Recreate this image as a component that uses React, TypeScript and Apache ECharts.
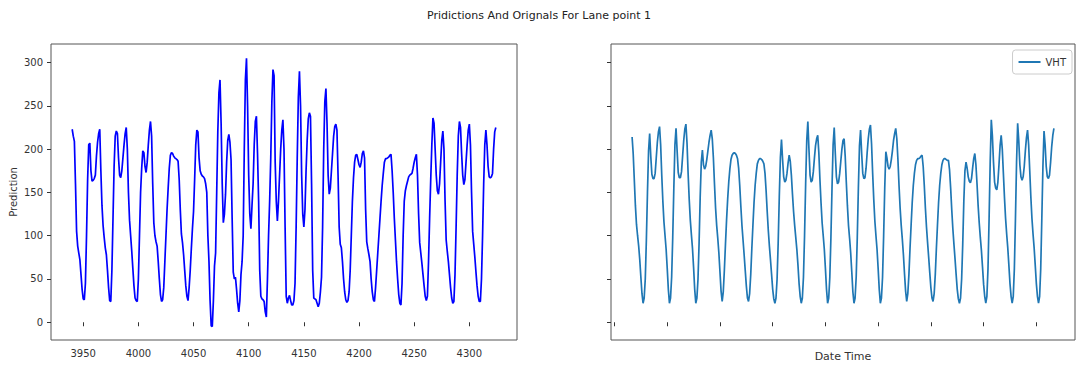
import React, { useEffect, useRef } from "react";
import * as echarts from "echarts";

const TITLE = "Pridictions And Orignals For Lane point 1";
const X_START = 3940;

// Left panel: model predictions (hourly)
const prediction: number[] = [
  223, 215, 209, 160, 105, 88, 80, 72, 55, 38,
  27, 26, 45, 100, 165, 205, 207, 175, 163, 164, 166, 170, 192, 208, 218, 223, 175, 135, 112, 98, 86, 78, 60, 40,
  25, 24, 60, 120, 180, 215, 221, 218, 190, 170, 167, 175, 190, 205, 218, 225, 200, 150, 118, 100, 82, 62, 42, 28,
  25, 24, 50, 100, 150, 178, 198, 196, 180, 173, 185, 205, 222, 232, 215, 160, 115, 100, 93, 88, 70, 50, 32, 24,
  26, 40, 70, 100, 130, 155, 178, 193, 196, 195, 192, 190, 189, 188, 186, 165, 130, 102, 92, 78, 60, 42, 30, 25,
  40, 60, 85, 108, 128, 165, 205, 222, 220, 190, 175, 171, 169, 168, 166, 160, 150, 100, 70, 25, -4, -5, 25, 65,
  80, 150, 220, 265, 280, 230, 160, 115, 125, 148, 185, 210, 217, 208, 188, 120, 58, 50, 52, 38, 22, 12, 25, 55,
  70, 100, 200, 280, 305, 250, 170, 125, 108, 135, 160, 205, 232, 238, 195, 140, 60, 30, 27, 26, 24, 12, 6, 50,
  100, 140, 190, 255, 292, 285, 185, 140, 117, 140, 170, 200, 222, 234, 200, 110, 30, 22, 28, 31, 25, 20, 20, 25,
  45, 110, 190, 260, 290, 250, 170, 125, 110, 130, 175, 210, 235, 242, 238, 160, 60, 28, 27, 26, 22, 18, 22, 35,
  52, 110, 200, 255, 270, 230, 170, 148, 155, 175, 195, 215, 226, 229, 222, 170, 110, 90, 86, 70, 50, 35, 26, 23,
  25, 35, 60, 100, 140, 167, 185, 193, 194, 188, 182, 179, 185, 195, 198, 190, 130, 93, 85, 78, 70, 50, 35, 26,
  24, 40, 60, 80, 100, 120, 140, 158, 172, 185, 189, 189, 190, 191, 193, 194, 175, 150, 120, 95, 70, 50, 32, 22,
  20, 45, 100, 140, 152, 158, 163, 168, 170, 171, 172, 178, 185, 190, 194, 170, 125, 92, 80, 68, 55, 42, 30, 25,
  30, 70, 120, 165, 205, 236, 230, 200, 170, 152, 148, 160, 185, 210, 221, 200, 140, 95, 82, 70, 55, 40, 28, 22,
  24, 55, 110, 170, 215, 232, 225, 195, 170, 159, 165, 185, 205, 222, 229, 205, 150, 105, 90, 75, 58, 42, 30, 24,
  24, 50, 100, 160, 205, 222, 205, 180, 168, 167, 168, 172, 200, 220, 225,
];

// Right panel: original VHT values (hourly)
const vht: number[] = [
  214, 195, 165, 135, 113, 100, 88, 72, 52, 33,
  22, 28, 50, 95, 150, 198, 218, 192, 171, 166, 166, 172, 190, 208, 220, 226, 205, 170, 140, 116, 100, 84, 62, 38,
  22, 28, 52, 98, 155, 205, 224, 198, 173, 167, 167, 174, 192, 210, 223, 229, 207, 172, 142, 118, 101, 85, 63, 38,
  22, 28, 50, 92, 145, 185, 199, 182, 177, 180, 188, 198, 208, 216, 222, 212, 190, 160, 132, 112, 97, 80, 58, 36,
  24, 35, 60, 90, 118, 142, 162, 177, 188, 193, 195, 196, 195, 193, 189, 178, 158, 134, 112, 95, 78, 60, 42, 28,
  24, 33, 55, 85, 112, 138, 158, 172, 183, 187, 189, 189, 188, 186, 183, 172, 152, 128, 106, 88, 72, 55, 38, 27,
  22, 28, 50, 92, 145, 190, 211, 188, 168, 162, 164, 172, 184, 193, 186, 170, 148, 128, 112, 98, 84, 66, 45, 30,
  22, 28, 52, 100, 160, 210, 232, 200, 170, 162, 164, 174, 190, 204, 212, 216, 196, 165, 138, 115, 100, 84, 62, 38,
  22, 28, 52, 98, 155, 205, 225, 195, 168, 160, 162, 172, 186, 200, 210, 212, 192, 162, 135, 112, 97, 80, 58, 35,
  22, 28, 52, 98, 155, 204, 222, 195, 172, 166, 167, 178, 196, 212, 223, 228, 206, 172, 142, 117, 100, 84, 62, 38,
  22, 28, 52, 100, 155, 197, 190, 180, 177, 180, 188, 198, 210, 218, 224, 212, 188, 158, 132, 112, 96, 78, 56, 36,
  24, 33, 55, 85, 112, 138, 158, 172, 182, 187, 189, 189, 190, 192, 193, 180, 158, 132, 110, 92, 75, 57, 40, 28,
  24, 33, 55, 85, 112, 138, 158, 172, 182, 187, 189, 189, 188, 187, 187, 176, 155, 130, 108, 90, 73, 55, 38, 27,
  22, 28, 50, 90, 140, 175, 185, 178, 168, 163, 161, 166, 178, 189, 195, 182, 160, 135, 115, 98, 83, 64, 44, 30,
  22, 30, 62, 120, 185, 234, 215, 185, 162, 155, 153, 162, 182, 204, 216, 200, 172, 144, 120, 102, 86, 66, 45, 30,
  22, 30, 62, 120, 185, 230, 210, 182, 168, 164, 168, 180, 198, 213, 222, 205, 175, 145, 120, 102, 86, 66, 45, 30,
  22, 30, 62, 120, 180, 221, 205, 180, 168, 166, 170, 185, 203, 216, 224,
];

const leftXTicks = [3950, 4000, 4050, 4100, 4150, 4200, 4250, 4300];
const rightXTicks = [3924, 3972, 4020, 4068, 4116, 4164, 4212, 4260, 4308];
const yTicks = [0, 50, 100, 150, 200, 250, 300];

const X_MIN = 3920.8;
const X_MAX = 4343.2;
const Y_MIN = -20.5;
const Y_MAX = 321.5;

const FONT = "DejaVu Sans";

export default function App() {
  const ref = useRef<HTMLDivElement>(null);

  useEffect(() => {
    if (!ref.current) return;
    const chart = echarts.init(ref.current, undefined, { renderer: "svg" });
    const predData = prediction.map((v, i) => [X_START + i, v]);
    const vhtData = vht.map((v, i) => [X_START + i, v]);

    const tickStyle = { color: "#333", width: 1 };
    const plain = (v: number) => String(v);
    const xBase = {
      type: "value",
      min: X_MIN,
      max: X_MAX,
      axisLine: { show: false },
      splitLine: { show: false },
    };
    const yBase = {
      type: "value",
      min: Y_MIN,
      max: Y_MAX,
      axisLine: { show: false },
      splitLine: { show: false },
    };

    chart.setOption({
      animation: false,
      backgroundColor: "#ffffff",
      title: {
        text: TITLE,
        left: "center",
        top: 5,
        textStyle: { fontFamily: FONT, fontSize: 11, fontWeight: "normal", color: "#222" },
      },
      legend: {
        data: ["VHT"],
        right: 6,
        top: 50,
        icon: "rect",
        itemWidth: 22,
        itemHeight: 2,
        itemGap: 5,
        padding: [7, 6],
        borderColor: "#cccccc",
        borderWidth: 1,
        borderRadius: 3,
        textStyle: { fontFamily: FONT, fontSize: 10, color: "#333" },
      },
      grid: [
        { left: 51, top: 44, width: 466, height: 296, show: true, borderColor: "#555", borderWidth: 1, backgroundColor: "transparent" },
        { left: 611, top: 44, width: 464, height: 296, show: true, borderColor: "#555", borderWidth: 1, backgroundColor: "transparent" },
      ],
      xAxis: [
        {
          ...xBase,
          gridIndex: 0,
          axisTick: { show: true, length: 4, customValues: leftXTicks, lineStyle: tickStyle },
          axisLabel: { show: true, customValues: leftXTicks, formatter: plain, margin: 8, fontFamily: FONT, fontSize: 10, color: "#333" },
        },
        {
          ...xBase,
          gridIndex: 1,
          axisTick: { show: true, length: 4, customValues: rightXTicks, lineStyle: tickStyle },
          axisLabel: { show: false },
          name: "Date Time",
          nameLocation: "middle",
          nameGap: 11,
          nameTextStyle: { fontFamily: FONT, fontSize: 11, color: "#333" },
        },
      ],
      yAxis: [
        {
          ...yBase,
          gridIndex: 0,
          axisTick: { show: true, length: 4, customValues: yTicks, lineStyle: tickStyle },
          axisLabel: { show: true, customValues: yTicks, formatter: plain, margin: 8, fontFamily: FONT, fontSize: 10, color: "#333" },
          name: "Prediction",
          nameLocation: "middle",
          nameGap: 33,
          nameTextStyle: { fontFamily: FONT, fontSize: 10, color: "#333" },
        },
        {
          ...yBase,
          gridIndex: 1,
          axisTick: { show: true, length: 4, customValues: yTicks, lineStyle: tickStyle },
          axisLabel: { show: false },
        },
      ],
      series: [
        {
          name: "Prediction",
          type: "line",
          xAxisIndex: 0,
          yAxisIndex: 0,
          data: predData,
          showSymbol: false,
          lineStyle: { color: "#0000ff", width: 1.7 },
          itemStyle: { color: "#0000ff" },
        },
        {
          name: "VHT",
          type: "line",
          xAxisIndex: 1,
          yAxisIndex: 1,
          data: vhtData,
          showSymbol: false,
          lineStyle: { color: "#1f77b4", width: 1.7 },
          itemStyle: { color: "#1f77b4" },
        },
      ],
    });
    return () => chart.dispose();
  }, []);

  return (
    <div
      ref={ref}
      style={{ position: "absolute", left: 0, top: 0, width: 1078, height: 368, background: "#fff" }}
    />
  );
}
